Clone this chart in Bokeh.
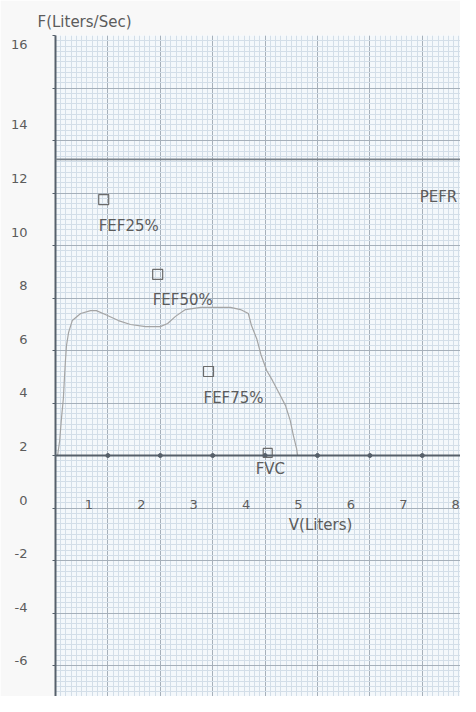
from bokeh.plotting import figure
from bokeh.models import Range1d, FixedTicker, Span, Title, Grid
from bokeh.core.properties import value
from bokeh.embed import file_html
from bokeh.resources import INLINE

# ---------------- data ----------------
curve_vol = [0.04, 0.08, 0.11, 0.15, 0.17, 0.19, 0.21, 0.25, 0.32, 0.48, 0.67, 0.78,
             0.95, 1.20, 1.43, 1.72, 2.00, 2.14, 2.29, 2.48, 2.77, 3.05, 3.34, 3.53,
             3.68, 3.74, 3.84, 3.92, 4.03, 4.14, 4.27, 4.39, 4.48, 4.54, 4.60, 4.62]
curve_flow = [2.00, 2.57, 3.33, 4.17, 4.93, 5.62, 6.19, 6.69, 7.14, 7.41, 7.52, 7.52,
              7.37, 7.14, 6.99, 6.91, 6.91, 7.03, 7.30, 7.56, 7.64, 7.64, 7.64, 7.56,
              7.41, 6.95, 6.45, 5.85, 5.24, 4.86, 4.36, 3.90, 3.33, 2.76, 2.27, 2.00]

fef_names = ["FEF25%", "FEF50%", "FEF75%"]
fef_vol = [0.92, 1.95, 2.92]
fef_flow = [11.75, 8.90, 5.20]

fvc_name = ["FVC"]
fvc_vol = [4.05]
fvc_flow = [2.10]

pefr_flow = 13.28
pefr_name = ["PEFR"]
pefr_label_vol = [6.95]
pefr_label_flow = [11.83]

baseline_flow = 2.0
x_ticks = [1, 2, 3, 4, 5, 6, 7, 8]
x_tick_labels = ["1", "2", "3", "4", "5", "6", "7", "8"]
y_tick_values = [16, 14, 12, 10, 8, 6, 4, 2, 0, -2, -4, -6, -8]

x_title = "V(Liters)"
y_title = "F(Liters/Sec)"

# ---------------- layout ----------------
W, H = 460, 696
LEFT, TOP = 55, 35
PX_X, PX_Y = 52.4, 26.25          # pixels per litre / per l/s
X_MIN = 0.0
X_MAX = X_MIN + (W - LEFT) / PX_X
Y_MAX = 18.0
Y_MIN = Y_MAX - (H - TOP) / PX_Y
FONT = "DejaVu Sans"
TXT = "#5c5c5c"
AX = "#56606b"

p = figure(width=W, height=H, frame_width=W - LEFT, frame_height=H - TOP,
           x_range=Range1d(X_MIN, X_MAX), y_range=Range1d(Y_MIN, Y_MAX),
           x_axis_location=None, toolbar_location=None, output_backend="svg",
           min_border_left=LEFT, min_border_top=TOP, min_border_right=0,
           min_border_bottom=0)
p.outline_line_color = None
p.background_fill_color = "#f4f8fb"
p.border_fill_color = "#f8f8f8"

# grids: remove defaults, add graph-paper grid
p.center = [r for r in p.center if not isinstance(r, Grid)]
xg = Grid(dimension=0,
          ticker=FixedTicker(ticks=list(range(0, 9)),
                             minor_ticks=[i / 10 for i in range(0, 81)]),
          grid_line_color="#a6b0ba", grid_line_width=1,
          minor_grid_line_color="#d3dee8", minor_grid_line_width=1)
yg = Grid(dimension=1,
          ticker=FixedTicker(ticks=list(range(-8, 20, 2)),
                             minor_ticks=[round(-8 + i * 0.2, 2) for i in range(0, 131)]),
          grid_line_color="#a6b0ba", grid_line_width=1,
          minor_grid_line_color="#d3dee8", minor_grid_line_width=1)
p.add_layout(xg)
p.add_layout(yg)

# y axis labels: drawn slightly above their grid lines, as in the scan;
# the top label sits just under the top of the axis
label_pos = []
overrides = {}
top_value = max(y_tick_values)
for v in y_tick_values:
    if v == top_value:
        pos = Y_MAX - 9 / PX_Y
    else:
        pos = v + (9 + 0.55 * (v - 2)) / PX_Y
    pos = round(pos, 3)
    label_pos.append(pos)
    overrides[pos] = str(v)
ya = p.yaxis[0]
ya.ticker = FixedTicker(ticks=label_pos, minor_ticks=list(range(-8, 20, 2)))
ya.major_label_overrides = overrides
ya.axis_line_color = AX
ya.axis_line_width = 2
ya.major_tick_line_color = None
ya.major_tick_out = 0
ya.major_tick_in = 0
ya.minor_tick_line_color = AX
ya.minor_tick_out = 3
ya.minor_tick_in = 0
ya.major_label_standoff = 25
ya.major_label_text_font = FONT
ya.major_label_text_font_size = "13px"
ya.major_label_text_color = TXT

# y title
p.add_layout(Title(text=y_title, align="left", offset=-18, standoff=9,
                   text_font=FONT, text_font_size="15px",
                   text_font_style="normal", text_color=TXT), "above")

# PEFR reference line and V axis line
p.add_layout(Span(location=pefr_flow, dimension="width",
                  line_color="#7c848c", line_width=1.6))
p.add_layout(Span(location=baseline_flow, dimension="width",
                  line_color=AX, line_width=2))
p.scatter(x=x_ticks, y=[baseline_flow] * len(x_ticks), size=4,
          color=AX, marker="circle")

# flow-volume curve
p.line(curve_vol, curve_flow, line_color="#a4a4a4", line_width=1.2)

# FEF markers and labels
p.scatter(x=fef_vol, y=fef_flow, marker="square", size=10,
          fill_color=None, line_color="#6b6b6b", line_width=1.2)
p.text(x=fef_vol, y=fef_flow, text=fef_names, x_offset=-5, y_offset=26,
       text_font=value(FONT), text_font_size="15px", text_color=TXT,
       text_align="left", text_baseline="middle")

# FVC marker and label
p.scatter(x=fvc_vol, y=fvc_flow, marker="square", size=9,
          fill_color=None, line_color="#6b6b6b", line_width=1.2)
p.text(x=fvc_vol, y=fvc_flow, text=fvc_name, x_offset=-12, y_offset=16,
       text_font=value(FONT), text_font_size="15px", text_color=TXT,
       text_align="left", text_baseline="middle")

# PEFR label
p.text(x=pefr_label_vol, y=pefr_label_flow, text=pefr_name,
       text_font=value(FONT), text_font_size="15px", text_color=TXT,
       text_align="left", text_baseline="middle")

# V tick labels below the V line
p.text(x=x_ticks, y=[baseline_flow] * len(x_ticks), text=x_tick_labels,
       x_offset=-19, y_offset=49,
       text_font=value(FONT), text_font_size="13px", text_color=TXT,
       text_align="center", text_baseline="middle")

# V title
p.text(x=[5.06], y=[baseline_flow], text=[x_title], y_offset=69,
       text_font=value(FONT), text_font_size="15px", text_color=TXT,
       text_align="center", text_baseline="middle")

open("out.html", "w").write(file_html(p, INLINE))
